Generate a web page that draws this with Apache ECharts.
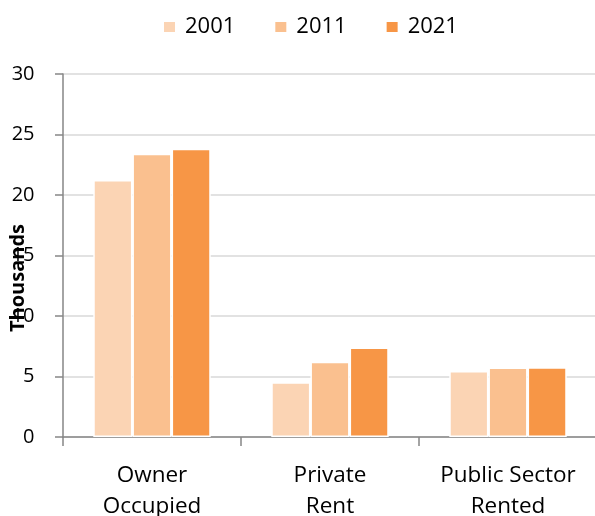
<!DOCTYPE html>
<html>
<head>
<meta charset="utf-8">
<script src="https://cdn.jsdelivr.net/npm/echarts@6/dist/echarts.min.js"></script>
<style>
  html, body { margin: 0; padding: 0; background: #fff; }
  #chart { width: 595px; height: 516px; }
</style>
</head>
<body>
<div id="chart"></div>
<script>
// Housing tenure, thousands of households
const categories = ['Owner\nOccupied', 'Private\nRent', 'Public Sector\nRented'];
const seriesNames = ['2001', '2011', '2021'];
const values2001 = [21.25, 4.53, 5.46];
const values2011 = [23.40, 6.21, 5.74];
const values2021 = [23.82, 7.40, 5.77];
const yTicks = { min: 0, max: 30, step: 5 };

const colors = ['#FBD4B4', '#FAC08F', '#F79646'];
const fontFamily = '"Open Sans", "Noto Sans", sans-serif';

const chart = echarts.init(document.getElementById('chart'), null, { renderer: 'canvas' });

const seriesData = [values2001, values2011, values2021];

chart.setOption({
  animation: false,
  color: colors,
  textStyle: { fontFamily: fontFamily },
  legend: {
    data: seriesNames,
    top: 11,
    left: 157,
    itemWidth: 13,
    itemHeight: 12,
    itemGap: 38,
    icon: 'rect',
    textStyle: { fontSize: 22, color: '#000', fontFamily: fontFamily, padding: [0, 0, 0, 4] }
  },
  grid: { left: 63, right: -2, top: 74, bottom: 79, containLabel: false, outerBoundsMode: 'none' },
  xAxis: {
    type: 'category',
    data: categories,
    axisLine: { lineStyle: { color: '#868686', width: 1.5 } },
    axisTick: { show: true, interval: 0, length: 9, lineStyle: { color: '#868686', width: 1.5 } },
    axisLabel: { color: '#000', fontSize: 22.5, lineHeight: 31, margin: 23, interval: 0, fontFamily: fontFamily }
  },
  yAxis: {
    type: 'value',
    min: yTicks.min,
    max: yTicks.max,
    interval: yTicks.step,
    axisLine: { show: true, lineStyle: { color: '#868686', width: 1.5 } },
    axisTick: { show: true, length: 8, lineStyle: { color: '#868686', width: 1.5 } },
    axisLabel: { color: '#000', fontSize: 20, margin: 28.5, fontFamily: fontFamily },
    splitLine: { show: true, lineStyle: { color: '#d9d9d9', width: 1.5 } }
  },
  graphic: [{
    type: 'text',
    x: 18,
    y: 278,
    rotation: Math.PI / 2,
    style: {
      text: 'Thousands',
      fill: '#000',
      font: 'bold 20px ' + fontFamily,
      textAlign: 'center',
      textVerticalAlign: 'middle'
    },
    z: 10
  }],
  series: seriesNames.map((name, i) => ({
    name: name,
    type: 'bar',
    data: seriesData[i],
    barGap: '0%',
    barCategoryGap: '34%',
    itemStyle: { color: colors[i], borderColor: '#ffffff', borderWidth: 1.5 }
  }))
});
</script>
</body>
</html>
